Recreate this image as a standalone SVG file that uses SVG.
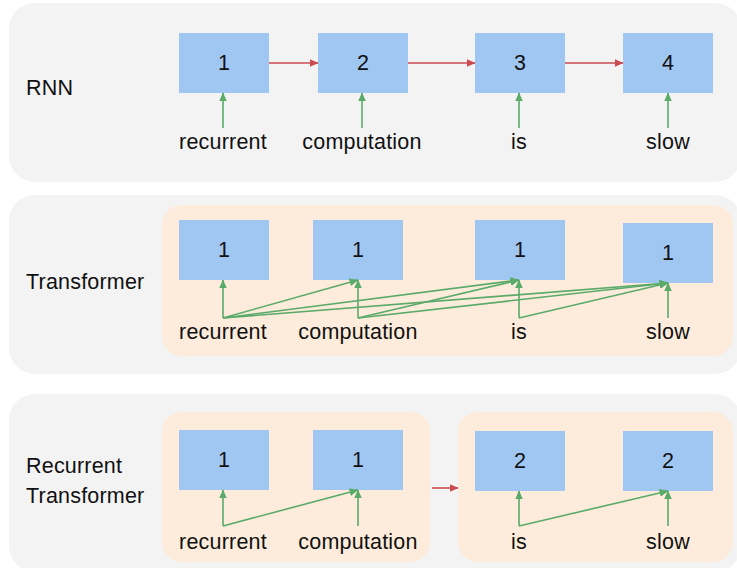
<svg xmlns="http://www.w3.org/2000/svg" width="737" height="568" viewBox="0 0 737 568">
  <defs>
    <marker id="headRed" viewBox="0 0 8 8" refX="7.5" refY="4" markerWidth="9" markerHeight="9" markerUnits="userSpaceOnUse" orient="auto">
      <path d="M0,0.5 L8,4 L0,7.5 Z" fill="#cc4b51"/>
    </marker>
    <marker id="headGreen" viewBox="0 0 8 8" refX="7.5" refY="4" markerWidth="9" markerHeight="9" markerUnits="userSpaceOnUse" orient="auto">
      <path d="M0,0.5 L8,4 L0,7.5 Z" fill="#5aaa6a"/>
    </marker>
  </defs>
  <style>
    .panel { fill: #f3f3f3; }
    .group { fill: #fdecdb; }
    .box { fill: #a0c7f2; }
    text { font-family: "Liberation Sans", Arial, sans-serif; font-size: 21.5px; letter-spacing: 0.2px; fill: #111; }
    .num { text-anchor: middle; dominant-baseline: central; }
    .word { text-anchor: middle; }
    .red { stroke: #cc4b51; stroke-width: 1.6; fill: none; marker-end: url(#headRed); }
    .green { stroke: #5aaa6a; stroke-width: 1.6; fill: none; marker-end: url(#headGreen); }
  </style>

  <rect width="737" height="568" fill="#ffffff"/>

  <!-- Section backgrounds -->
  <g id="panels">
    <rect class="panel" x="9" y="3" width="732" height="179" rx="26"/>
    <rect class="panel" x="9" y="195" width="732" height="179" rx="26"/>
    <rect class="panel" x="9" y="394" width="732" height="178" rx="26"/>
    <rect class="group" x="162" y="205" width="571" height="151" rx="20"/>
    <rect class="group" x="162" y="412" width="268" height="150" rx="20"/>
    <rect class="group" x="458" y="412" width="275" height="150" rx="20"/>
  </g>

  <!-- Section titles -->
  <g id="titles">
    <text x="26" y="88" dominant-baseline="central">RNN</text>
    <text x="26" y="282" dominant-baseline="central">Transformer</text>
    <text x="26" y="466" dominant-baseline="central">Recurrent</text>
    <text x="26" y="496" dominant-baseline="central">Transformer</text>
  </g>

  <!-- RNN row -->
  <g id="rnn-1"><rect class="box" x="179" y="33" width="90" height="60"/><text class="num" x="224" y="63">1</text></g>
  <g id="rnn-2"><rect class="box" x="318" y="33" width="90" height="60"/><text class="num" x="363" y="63">2</text></g>
  <g id="rnn-3"><rect class="box" x="475" y="33" width="90" height="60"/><text class="num" x="520" y="63">3</text></g>
  <g id="rnn-4"><rect class="box" x="623" y="33" width="90" height="60"/><text class="num" x="668" y="63">4</text></g>
  <g id="rnn-words">
    <text class="word" x="223" y="149">recurrent</text>
    <text class="word" x="362" y="149">computation</text>
    <text class="word" x="519" y="149">is</text>
    <text class="word" x="668" y="149">slow</text>
  </g>

  <!-- Transformer row -->
  <g id="tf-1"><rect class="box" x="179" y="220" width="90" height="60"/><text class="num" x="224" y="250">1</text></g>
  <g id="tf-2"><rect class="box" x="313" y="220" width="90" height="60"/><text class="num" x="358" y="250">1</text></g>
  <g id="tf-3"><rect class="box" x="475" y="220" width="90" height="60"/><text class="num" x="520" y="250">1</text></g>
  <g id="tf-4"><rect class="box" x="623" y="223" width="90" height="60"/><text class="num" x="668" y="253">1</text></g>
  <g id="tf-words">
    <text class="word" x="223" y="339">recurrent</text>
    <text class="word" x="358" y="339">computation</text>
    <text class="word" x="519" y="339">is</text>
    <text class="word" x="668" y="339">slow</text>
  </g>

  <!-- Recurrent Transformer row -->
  <g id="rt-1"><rect class="box" x="179" y="430" width="90" height="60"/><text class="num" x="224" y="460">1</text></g>
  <g id="rt-2"><rect class="box" x="313" y="430" width="90" height="60"/><text class="num" x="358" y="460">1</text></g>
  <g id="rt-3"><rect class="box" x="475" y="431" width="90" height="60"/><text class="num" x="520" y="461">2</text></g>
  <g id="rt-4"><rect class="box" x="623" y="431" width="90" height="60"/><text class="num" x="668" y="461">2</text></g>
  <g id="rt-words">
    <text class="word" x="223" y="549">recurrent</text>
    <text class="word" x="358" y="549">computation</text>
    <text class="word" x="519" y="549">is</text>
    <text class="word" x="668" y="549">slow</text>
  </g>

  <!-- Connectors -->
  <g id="connectors">
    <!-- RNN: sequential state passing -->
    <line class="red" x1="269" y1="63" x2="318" y2="63"/>
    <line class="red" x1="408" y1="63" x2="475" y2="63"/>
    <line class="red" x1="565" y1="63" x2="623" y2="63"/>
    <line class="green" x1="223" y1="128" x2="223" y2="93"/>
    <line class="green" x1="362" y1="128" x2="362" y2="93"/>
    <line class="green" x1="519" y1="128" x2="519" y2="93"/>
    <line class="green" x1="668" y1="128" x2="668" y2="93"/>

    <!-- Transformer: causal attention -->
    <line class="green" x1="223" y1="318" x2="223" y2="280"/>
    <line class="green" x1="223" y1="318" x2="358" y2="280"/>
    <line class="green" x1="223" y1="318" x2="519" y2="280"/>
    <line class="green" x1="223" y1="318" x2="668" y2="283"/>
    <line class="green" x1="358" y1="318" x2="358" y2="280"/>
    <line class="green" x1="358" y1="318" x2="519" y2="280"/>
    <line class="green" x1="358" y1="318" x2="668" y2="283"/>
    <line class="green" x1="519" y1="318" x2="519" y2="280"/>
    <line class="green" x1="519" y1="318" x2="668" y2="283"/>
    <line class="green" x1="668" y1="318" x2="668" y2="283"/>

    <!-- Recurrent Transformer: attention within each segment -->
    <line class="green" x1="223" y1="526" x2="223" y2="490"/>
    <line class="green" x1="223" y1="526" x2="358" y2="490"/>
    <line class="green" x1="358" y1="526" x2="358" y2="490"/>
    <line class="green" x1="519" y1="526" x2="519" y2="491"/>
    <line class="green" x1="519" y1="526" x2="668" y2="491"/>
    <line class="green" x1="668" y1="526" x2="668" y2="491"/>
    <line class="red" x1="432" y1="488" x2="458" y2="488"/>
  </g>
</svg>
